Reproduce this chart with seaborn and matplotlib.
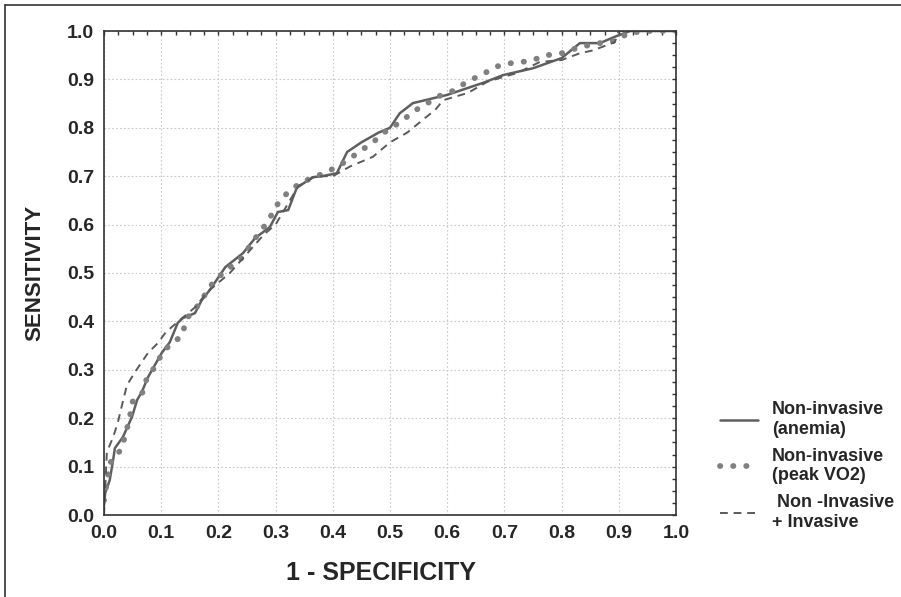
import numpy as np
import pandas as pd
import matplotlib
matplotlib.use('Agg')
import matplotlib.pyplot as plt
from matplotlib.lines import Line2D
from matplotlib.ticker import MultipleLocator, FormatStrFormatter
import seaborn as sns

# ROC curves
fpr_anemia = [0.0, 0.002, 0.01, 0.016, 0.019, 0.033, 0.049, 0.058, 0.066, 0.077,
              0.089, 0.101, 0.115, 0.129, 0.138, 0.159, 0.171, 0.185, 0.212, 0.243,
              0.264, 0.29, 0.304, 0.322, 0.337, 0.365, 0.381, 0.407, 0.425, 0.45,
              0.48, 0.50, 0.517, 0.54, 0.6, 0.663, 0.698, 0.75, 0.80, 0.832,
              0.867, 0.897, 0.92, 1.0]
tpr_anemia = [0.02, 0.045, 0.072, 0.114, 0.138, 0.161, 0.203, 0.238, 0.254, 0.285,
              0.31, 0.335, 0.357, 0.397, 0.407, 0.417, 0.444, 0.465, 0.512, 0.541,
              0.572, 0.595, 0.626, 0.63, 0.676, 0.698, 0.70, 0.706, 0.75, 0.77,
              0.79, 0.80, 0.83, 0.851, 0.868, 0.893, 0.909, 0.923, 0.944, 0.975,
              0.975, 0.99, 1.0, 1.0]

fpr_vo2 = [0.0, 0.01, 0.02, 0.031, 0.045, 0.049, 0.068, 0.075, 0.089, 0.103,
           0.115, 0.136, 0.145, 0.159, 0.19, 0.208, 0.243, 0.259, 0.276, 0.29,
           0.302, 0.32, 0.343, 0.39, 0.413, 0.434, 0.47, 0.50, 0.517, 0.54,
           0.587, 0.614, 0.634, 0.663, 0.684, 0.713, 0.745, 0.774, 0.80, 0.832,
           0.867, 0.897, 0.916, 0.95, 1.0]
tpr_vo2 = [0.03, 0.107, 0.12, 0.138, 0.2, 0.233, 0.254, 0.283, 0.306, 0.337,
           0.351, 0.37, 0.407, 0.424, 0.479, 0.5, 0.533, 0.564, 0.589, 0.614,
           0.64, 0.665, 0.686, 0.709, 0.723, 0.74, 0.77, 0.80, 0.81, 0.833,
           0.866, 0.878, 0.895, 0.911, 0.926, 0.934, 0.938, 0.95, 0.954, 0.967,
           0.975, 0.98, 0.996, 1.0, 1.0]

fpr_comb = [0.0, 0.005, 0.016, 0.024, 0.03, 0.04, 0.054, 0.066, 0.077, 0.094,
            0.107, 0.12, 0.14, 0.16, 0.18, 0.2, 0.22, 0.25, 0.28, 0.3,
            0.32, 0.34, 0.37, 0.40, 0.43, 0.47, 0.50, 0.53, 0.561, 0.579,
            0.593, 0.636, 0.67, 0.698, 0.722, 0.762, 0.80, 0.832, 0.855, 0.893,
            0.90, 1.0]
tpr_comb = [0.0, 0.13, 0.161, 0.19, 0.22, 0.268, 0.295, 0.316, 0.335, 0.355,
            0.376, 0.39, 0.41, 0.43, 0.46, 0.48, 0.50, 0.54, 0.58, 0.6,
            0.64, 0.68, 0.70, 0.70, 0.72, 0.74, 0.77, 0.79, 0.82, 0.837,
            0.857, 0.872, 0.895, 0.905, 0.913, 0.936, 0.94, 0.954, 0.96, 0.977,
            1.0, 1.0]

labels = ['Non-invasive\n(anemia)', 'Non-invasive\n(peak VO2)', ' Non -Invasive\n+ Invasive']

sns.set_style('white')
plt.rcParams['font.family'] = ['Liberation Sans', 'DejaVu Sans']
plt.rcParams['font.weight'] = 'bold'

fig = plt.figure(figsize=(9.01, 5.97), dpi=100)
ax = fig.add_axes([104 / 901, 1 - 515 / 597, 572 / 901, 484 / 597])

# curves
sns.lineplot(x=fpr_anemia, y=tpr_anemia, ax=ax, sort=False, estimator=None,
             color='#5f5f5f', linewidth=1.8, label=labels[0])
sns.lineplot(x=fpr_vo2, y=tpr_vo2, ax=ax, sort=False, estimator=None,
             color='#808080', linewidth=4.2, label=labels[1],
             linestyle=(0, (0.05, 2.2)), dash_capstyle='round')
sns.lineplot(x=fpr_comb, y=tpr_comb, ax=ax, sort=False, estimator=None,
             color='#5a5a5a', linewidth=1.4, label=labels[2],
             linestyle=(0, (4, 3)))

ax.set_xlim(0, 1)
ax.set_ylim(0, 1)
ax.xaxis.set_major_locator(MultipleLocator(0.1))
ax.yaxis.set_major_locator(MultipleLocator(0.1))
ax.xaxis.set_minor_locator(MultipleLocator(0.025))
ax.yaxis.set_minor_locator(MultipleLocator(0.025))
ax.tick_params(which='both', direction='in', top=True, right=True,
               length=3, width=1, color='#333333')
ax.tick_params(which='major', labelsize=14, pad=7)
for lab in ax.get_xticklabels() + ax.get_yticklabels():
    lab.set_fontweight('bold')
ax.xaxis.set_major_formatter(FormatStrFormatter('%.1f'))
ax.yaxis.set_major_formatter(FormatStrFormatter('%.1f'))

ax.grid(True, which='major', linestyle=(0, (1.5, 2)), color='#c8c8c8', linewidth=0.8)
for s in ax.spines.values():
    s.set_color('#333333')
    s.set_linewidth(1.2)

ax.set_xlabel('1 - SPECIFICITY', fontsize=18, fontweight='bold', labelpad=12)
ax.xaxis.set_label_coords(0.485, -0.095)
ax.set_ylabel('SENSITIVITY', fontsize=16, fontweight='bold', labelpad=16)

ax.get_legend().remove()
handles, labs = ax.get_legend_handles_labels()
fig.legend(handles, labs, loc='upper left', bbox_to_anchor=(704 / 901, 1 - 385 / 597),
           frameon=False, prop={'size': 13, 'weight': 'bold'},
           handlelength=2.1, labelspacing=0.55, handletextpad=0.75)

# outer frame: only the left and top edges show in the source image
fig.add_artist(Line2D([5 / 901, 5 / 901], [0, 1 - 5 / 597], transform=fig.transFigure,
                      color='#333333', linewidth=1.2))
fig.add_artist(Line2D([5 / 901, 1], [1 - 5 / 597, 1 - 5 / 597], transform=fig.transFigure,
                      color='#333333', linewidth=1.2))

fig.savefig('out.png', dpi=100)
